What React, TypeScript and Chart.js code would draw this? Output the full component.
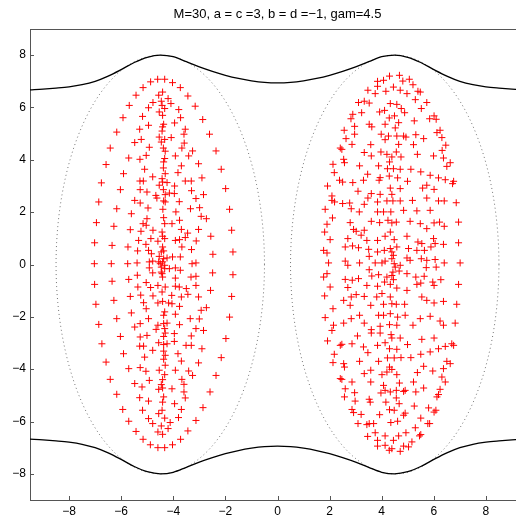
import React, { useEffect, useRef } from "react";
import { Chart, registerables } from "chart.js";

Chart.register(...registerables);

const titleText = "M=30, a = c =3, b = d =\u22121, gam=4.5";
const xTickValues = [-8, -6, -4, -2, 0, 2, 4, 6, 8];
const yTickValues = [-8, -6, -4, -2, 0, 2, 4, 6, 8];

const curveX = [-9.5, -9, -8.5, -8, -7.5, -7, -6.5, -6, -5.5, -5, -4.5, -4, -3.5, -3, -2.5, -2, -1.5, -1, -0.5, 0,
  0.5, 1, 1.5, 2, 2.5, 3, 3.5, 4, 4.5, 5, 5.5, 6, 6.5, 7, 7.5, 8, 8.5, 9, 9.5];
const curveTop = [6.67, 6.7, 6.74, 6.79, 6.87, 7.0, 7.2, 7.45, 7.72, 7.92, 8.0, 7.94, 7.75, 7.55, 7.38, 7.23, 7.11, 7.02, 6.96, 6.94,
  6.96, 7.02, 7.11, 7.23, 7.38, 7.55, 7.75, 7.94, 8.0, 7.92, 7.72, 7.45, 7.2, 7.0, 6.87, 6.79, 6.74, 6.7, 6.67];
const curveBottom = curveTop.map((v) => -v);

const ellipseCentersX = [-4.5, 4.5];
const ellipseSemiAxes = [4, 8];

const leftCluster: number[][] = [
  [-4.60, 7.08], [-4.33, 7.08], [-4.87, 6.98], [-4.03, 6.95], [-5.16, 6.76], [-3.73, 6.76], [-4.41, 6.59], [-4.56, 6.47],
  [-5.43, 6.47], [-3.44, 6.44], [-4.20, 6.34], [-4.78, 6.19], [-4.46, 6.24], [-4.09, 6.15], [-4.43, 6.08], [-5.69, 6.08],
  [-4.95, 5.99], [-3.16, 6.05], [-4.33, 5.96], [-3.79, 5.92], [-4.54, 5.83], [-4.41, 5.70], [-5.93, 5.61], [-5.18, 5.66],
  [-3.72, 5.61], [-2.87, 5.54], [-3.95, 5.41], [-4.95, 5.32], [-4.37, 5.36], [-4.41, 5.26], [-5.29, 5.17], [-3.54, 5.17],
  [-4.43, 5.10], [-6.17, 5.06], [-2.61, 4.98], [-3.59, 4.98], [-4.54, 4.87], [-5.23, 4.78], [-4.33, 4.78], [-4.08, 4.85],
  [-4.46, 4.68], [-5.48, 4.66], [-3.58, 4.64], [-4.92, 4.48], [-4.38, 4.45], [-6.42, 4.45], [-3.67, 4.45], [-3.26, 4.34],
  [-4.31, 4.33], [-5.04, 4.17], [-3.92, 4.15], [-3.41, 4.15], [-2.36, 4.34], [-5.71, 4.07], [-5.28, 4.02], [-4.33, 4.05],
  [-4.37, 3.92], [-6.58, 3.82], [-3.03, 3.85], [-3.69, 3.77], [-4.38, 3.69], [-5.10, 3.64], [-2.16, 3.64], [-5.91, 3.47],
  [-4.31, 3.47], [-3.82, 3.51], [-4.79, 3.35], [-4.43, 3.28], [-2.90, 3.31], [-5.28, 3.19], [-5.15, 3.19], [-4.41, 3.15],
  [-4.24, 3.13], [-6.76, 3.12], [-3.54, 3.19], [-3.31, 3.19], [-4.54, 3.03], [-3.95, 3.00], [-6.03, 2.86], [-5.27, 2.86],
  [-4.38, 2.86], [-3.30, 2.82], [-1.99, 2.90], [-5.01, 2.77], [-4.15, 2.73], [-4.67, 2.64], [-4.31, 2.67], [-2.84, 2.67],
  [-3.96, 2.71],
  [-6.86, 2.39], [-5.48, 2.45], [-5.27, 2.35], [-4.63, 2.54], [-4.37, 2.43], [-4.31, 2.39], [-3.77, 2.40], [-3.13, 2.52],
  [-6.17, 2.13], [-5.61, 1.94], [-4.97, 2.16], [-4.40, 2.11], [-3.90, 2.01], [-3.34, 2.13], [-2.99, 2.17], [-1.84, 2.11],
  [-6.95, 1.60], [-6.28, 1.46], [-5.16, 1.56], [-5.04, 1.50], [-5.01, 1.75], [-4.37, 1.79], [-4.33, 1.56], [-4.05, 1.56],
  [-3.76, 1.69], [-2.93, 1.84], [-2.73, 1.75], [-5.65, 1.33], [-5.24, 1.27], [-4.78, 1.31], [-4.43, 1.24], [-3.69, 1.34],
  [-3.45, 1.20], [-3.03, 1.34], [-1.76, 1.31], [-5.33, 0.92], [-4.86, 0.99], [-4.59, 0.89], [-4.41, 1.08], [-4.33, 0.99],
  [-3.92, 0.92], [-3.76, 0.95], [-3.54, 1.03], [-3.12, 0.90], [-2.56, 1.08], [-7.02, 0.83], [-6.35, 0.73], [-5.74, 0.67],
  [-5.37, 0.52], [-5.05, 0.77], [-4.84, 0.41], [-4.41, 0.67], [-4.37, 0.52], [-3.67, 0.67], [-3.30, 0.57], [-1.71, 0.48],
  [-2.48, 0.39], [-4.95, 0.54], [-4.54, 0.31], [-4.24, 0.25], [-4.41, 0.10], [-4.03, 0.29], [-3.73, 0.29], [-7.03, 0.03],
  [-6.38, 0.03], [-5.75, 0.03], [-5.39, 0.06], [-4.92, 0.10], [-4.79, 0.13], [-4.46, -0.10], [-4.33, -0.03], [-3.92, -0.13],
  [-3.73, -0.22], [-3.28, 0.03], [-3.13, 0.06], [-4.92, -0.13], [-4.79, -0.32], [-4.46, -0.29], [-4.15, -0.16], [-5.38, -0.41],
  [-5.71, -0.57], [-6.35, -0.64], [-4.41, -0.48], [-3.92, -0.52], [-3.32, -0.48], [-3.13, -0.45], [-2.49, -0.32], [-1.71, -0.39],
  [-5.04, -0.69], [-7.02, -0.76], [-5.36, -0.86], [-4.59, -0.80], [-4.87, -0.88], [-4.31, -0.86], [-3.92, -0.83], [-3.77, -0.86],
  [-3.50, -0.92], [-3.13, -0.80], [-2.57, -0.99], [-5.25, -1.17], [-5.65, -1.22], [-4.78, -1.20], [-4.43, -1.05], [-4.06, -1.18],
  [-3.69, -1.24], [-3.44, -1.14], [-3.03, -1.24], [-1.76, -1.22], [-6.97, -1.52], [-6.28, -1.37], [-5.14, -1.46], [-5.04, -1.69],
  [-4.59, -1.47], [-4.41, -1.41], [-4.18, -1.47], [-4.05, -1.50], [-3.76, -1.60], [-2.93, -1.75], [-2.73, -1.65], [-5.61, -1.85],
  [-4.37, -1.94], [-4.33, -1.81], [-3.92, -1.90], [-3.35, -2.07], [-3.00, -2.08], [-1.84, -2.01], [-6.86, -2.29], [-6.17, -2.07],
  [-5.27, -2.26], [-5.48, -2.39], [-4.95, -2.07], [-4.59, -2.32], [-4.37, -2.26], [-4.24, -2.24], [-3.76, -2.30], [-3.13, -2.45],
  [-2.84, -2.52], [-4.66, -2.48], [-4.33, -2.45],
  [-4.46, 0.48], [-4.37, 0.22], [-4.50, 0.03], [-4.33, -0.16], [-4.43, -0.35], [-4.56, 0.10],
  [-6.03, -2.75], [-5.27, -2.77], [-5.01, -2.71], [-4.37, -2.75], [-4.31, -2.62], [-3.96, -2.64], [-3.31, -2.73], [-1.98, -2.83],
  [-6.74, -3.03], [-5.29, -3.12], [-5.14, -3.12], [-4.56, -2.99], [-4.37, -3.06], [-4.24, -3.03], [-3.96, -2.94], [-3.51, -3.09],
  [-3.31, -3.09], [-2.90, -3.22], [-5.91, -3.41], [-5.10, -3.54], [-4.79, -3.28], [-4.37, -3.31], [-4.31, -3.47], [-3.82, -3.41],
  [-3.69, -3.69], [-2.16, -3.56], [-6.58, -3.73], [-4.37, -3.62], [-4.31, -3.85], [-5.71, -3.98], [-5.27, -3.94], [-5.05, -4.08],
  [-4.54, -4.04], [-4.33, -4.21], [-3.92, -4.04], [-3.41, -4.07], [-3.26, -4.24], [-3.03, -3.76], [-2.36, -4.24], [-6.42, -4.39],
  [-5.48, -4.55], [-5.20, -4.68], [-4.92, -4.43], [-4.41, -4.40], [-4.46, -4.59], [-4.05, -4.75], [-3.67, -4.39], [-3.59, -4.58],
  [-2.59, -4.87], [-6.17, -4.96], [-4.41, -4.72], [-4.56, -4.77], [-4.37, -5.06], [-3.59, -4.87], [-3.54, -5.10], [-5.29, -5.09],
  [-4.95, -5.22], [-4.41, -5.26], [-3.95, -5.32], [-5.94, -5.54], [-5.18, -5.57], [-4.43, -5.57], [-3.69, -5.54], [-2.86, -5.47],
  [-4.56, -5.70], [-4.33, -5.87], [-3.80, -5.85], [-5.71, -5.99], [-4.95, -5.89], [-4.79, -6.08], [-4.46, -6.17], [-4.12, -6.04],
  [-4.20, -6.27], [-3.13, -5.96], [-5.43, -6.38], [-4.59, -6.40], [-4.41, -6.49], [-3.44, -6.36], [-5.16, -6.68], [-3.72, -6.68],
  [-4.88, -6.89], [-4.59, -7.00], [-4.33, -7.00], [-4.03, -6.89],
];

const rightCluster: number[][] = [
  [4.30, 7.20], [4.68, 7.23], [3.84, 7.00], [4.07, 7.04], [4.81, 7.01], [5.06, 7.08], [5.20, 6.87], [3.84, 6.81],
  [4.45, 6.78], [3.47, 6.66], [3.75, 6.53], [4.16, 6.62], [4.71, 6.66], [4.97, 6.53], [5.39, 6.62], [5.48, 6.59],
  [3.11, 6.19], [3.33, 6.24], [3.52, 6.17], [4.33, 6.15], [4.58, 6.12], [5.29, 6.30], [5.73, 6.19], [3.92, 5.83],
  [4.11, 5.89], [4.29, 5.60], [4.49, 5.68], [4.88, 5.80], [4.75, 5.96], [5.52, 5.96], [2.89, 5.74], [2.82, 5.57],
  [3.23, 5.80], [4.65, 5.42], [5.25, 5.49], [5.84, 5.57], [6.01, 5.68], [6.09, 5.55], [3.52, 5.36], [3.62, 5.26],
  [4.13, 5.36], [4.52, 5.22], [2.56, 5.13], [2.96, 5.28], [2.96, 4.98], [3.98, 4.98], [4.26, 4.91], [4.58, 4.91],
  [4.84, 4.91], [4.93, 4.87], [5.31, 4.96], [5.61, 4.81], [6.12, 5.04], [6.24, 5.13], [2.63, 4.81], [2.86, 4.59],
  [3.58, 4.58], [4.13, 4.77], [4.65, 4.59], [5.22, 4.58], [6.31, 4.85], [6.46, 4.56], [2.41, 4.45], [2.47, 4.40],
  [3.33, 4.28], [3.97, 4.30], [4.20, 4.21], [4.39, 4.11], [4.56, 4.30], [4.74, 4.11], [5.37, 4.21], [5.99, 4.15],
  [6.32, 4.36], [6.37, 4.07], [2.54, 4.02], [2.57, 3.89], [3.60, 4.15], [4.30, 3.92], [2.13, 3.83], [3.15, 3.77],
  [3.88, 3.77], [6.63, 3.89], [6.50, 3.75], [2.18, 3.51], [3.46, 3.45], [4.22, 3.66], [4.45, 3.66], [4.71, 3.64],
  [5.12, 3.64], [5.50, 3.54], [5.86, 3.41], [6.18, 3.31], [6.44, 3.24], [6.76, 3.18], [2.38, 3.22], [2.50, 3.15],
  [2.89, 3.13], [3.30, 3.22], [3.90, 3.22], [3.94, 3.32], [4.29, 3.38], [4.61, 3.31], [4.99, 3.18], [5.73, 3.03],
  [1.92, 3.00], [3.09, 2.80], [3.60, 2.71], [3.94, 2.68], [4.33, 2.92], [4.39, 2.68], [4.71, 2.90], [5.57, 2.92],
  [6.01, 2.87], [6.72, 3.09], [2.09, 2.62],
  [2.09, 2.45], [2.19, 2.39], [2.50, 2.33], [2.77, 2.35], [3.33, 2.30], [3.47, 2.54], [3.84, 2.39], [4.20, 2.43],
  [4.43, 2.43], [4.71, 2.43], [5.18, 2.45], [5.73, 2.54], [6.18, 2.43], [6.40, 2.43], [6.86, 2.36], [1.83, 2.11],
  [2.83, 2.13], [3.14, 2.01], [3.84, 2.01], [4.07, 2.01], [4.35, 2.01], [4.84, 2.07], [5.35, 2.05], [5.86, 2.07],
  [2.11, 1.78], [1.90, 1.54], [1.81, 1.24], [2.79, 1.60], [2.92, 1.34], [3.02, 1.27], [3.33, 1.31], [3.60, 1.65],
  [3.92, 1.60], [4.24, 1.69], [4.39, 1.59], [4.56, 1.62], [5.09, 1.65], [5.48, 1.56], [5.73, 1.37], [6.01, 1.59],
  [6.22, 1.62], [6.40, 1.46], [6.95, 1.62], [2.02, 0.95], [2.70, 0.99], [3.21, 1.12], [3.43, 0.92], [3.84, 0.92],
  [4.13, 1.08], [4.33, 1.24], [4.48, 0.95], [4.97, 1.08], [5.39, 0.86], [5.54, 0.80], [5.99, 0.99], [6.37, 0.77],
  [6.95, 0.83], [1.77, 0.54], [1.90, 0.44], [2.60, 0.67], [2.88, 0.71], [3.11, 0.64], [3.50, 0.58], [3.84, 0.48],
  [4.10, 0.54], [4.33, 0.61], [4.58, 0.67], [5.03, 0.61], [5.35, 0.54], [5.64, 0.54], [5.89, 0.67], [6.05, 0.80],
  [1.96, 0.06], [2.60, 0.13], [2.70, -0.03], [3.15, 0.06], [3.52, 0.31], [3.75, 0.06], [4.01, 0.06], [4.13, 0.13],
  [4.39, 0.22], [4.71, -0.03], [4.97, 0.25], [5.09, 0.16], [5.52, 0.22], [5.73, 0.16], [5.71, -0.12], [6.05, 0.19],
  [6.09, -0.10], [6.40, 0.06], [7.01, 0.06], [1.77, -0.48], [1.90, -0.35], [2.60, -0.57], [2.87, -0.60], [3.11, -0.54],
  [3.52, -0.20], [3.62, -0.44], [3.88, -0.39], [4.20, -0.48], [4.45, -0.58], [4.67, -0.25], [4.97, -0.35], [5.31, -0.48],
  [5.63, -0.45], [5.96, -0.67], [6.27, -0.58], [2.02, -0.86], [2.70, -0.88], [3.43, -0.80], [3.84, -0.83], [4.11, -0.67],
  [4.33, -0.76], [4.58, -0.90], [4.97, -0.99], [5.35, -0.76], [5.50, -0.71], [6.01, -0.80], [6.95, -0.76], [1.81, -1.20],
  [2.54, -1.37], [2.83, -1.24], [3.02, -1.15], [3.33, -1.22], [3.81, -1.24], [4.01, -1.11], [4.33, -1.24], [4.56, -1.52],
  [4.39, -1.50], [4.88, -1.52], [5.54, -1.24], [5.73, -1.37], [6.01, -1.47], [6.37, -1.41], [6.88, -1.52], [2.13, -1.69],
  [2.79, -1.56], [3.58, -1.56], [4.07, -1.52], [1.83, -2.03], [2.15, -2.32], [2.54, -2.24], [2.83, -2.07], [3.15, -1.94],
  [3.33, -2.24], [3.88, -1.94], [4.07, -1.94], [4.33, -1.88], [4.61, -2.01], [4.90, -1.94], [5.20, -2.32], [5.48, -2.07],
  [5.86, -1.98], [6.24, -2.16], [6.37, -2.32], [6.82, -2.24], [3.60, -2.49], [3.94, -2.36], [4.30, -2.30], [4.58, -2.32],
  [2.09, -2.52],
  [4.39, 0.48], [4.45, 0.35], [4.48, 0.03], [4.52, -0.10], [4.43, -0.29], [4.39, -0.42],
  [3.07, -2.73], [3.60, -2.62], [3.94, -2.62], [4.36, -2.68], [4.39, -2.81], [4.71, -2.81], [5.54, -2.86], [6.01, -2.81],
  [1.92, -2.92], [2.41, -3.09], [2.47, -3.05], [2.86, -3.03], [3.30, -3.15], [3.84, -3.09], [4.13, -2.99], [4.30, -3.22],
  [4.58, -3.24], [4.99, -3.06], [6.18, -3.22], [6.44, -3.13], [6.69, -3.03], [6.76, -3.09], [2.18, -3.43], [3.47, -3.37],
  [3.88, -3.70], [4.22, -3.57], [4.48, -3.57], [4.74, -3.56], [5.12, -3.56], [5.50, -3.43], [5.86, -3.34], [2.13, -3.75],
  [2.54, -3.79], [2.57, -3.92], [3.15, -3.70], [4.30, -3.92], [4.39, -4.01], [4.20, -4.11], [4.58, -4.21], [5.37, -4.13],
  [5.61, -3.89], [5.96, -4.07], [6.37, -3.98], [6.50, -3.70], [6.63, -3.79], [2.41, -4.36], [2.47, -4.39], [2.86, -4.49],
  [3.58, -4.04], [3.33, -4.17], [3.58, -4.49], [4.01, -4.21], [4.07, -4.62], [4.13, -4.81], [4.33, -4.87], [4.56, -4.81],
  [4.68, -4.53], [4.84, -4.85], [4.90, -4.81], [5.22, -4.49], [5.31, -4.87], [5.61, -4.72], [6.31, -4.30], [6.44, -4.49],
  [2.60, -4.75], [2.96, -4.90], [2.57, -5.06], [2.98, -5.22], [3.56, -5.26], [3.52, -5.15], [3.97, -4.91], [4.16, -5.26],
  [4.56, -5.10], [4.67, -5.32], [5.25, -5.41], [5.80, -5.48], [6.08, -5.57], [6.01, -5.64], [6.18, -4.97], [6.12, -5.06],
  [6.24, -4.77], [2.86, -5.54], [2.92, -5.66], [3.21, -5.73], [3.92, -5.74], [4.30, -5.55], [4.48, -5.57], [4.90, -5.68],
  [4.84, -5.76], [4.35, -6.04], [4.61, -5.99], [5.50, -5.87], [5.77, -6.08], [5.84, -6.08], [3.09, -6.08], [3.43, -6.12],
  [3.52, -6.08], [3.69, -6.08], [3.75, -6.43], [3.46, -6.57], [4.13, -6.55], [4.65, -6.55], [4.93, -6.43], [5.29, -6.24],
  [5.45, -6.55], [5.50, -6.50], [3.84, -6.72], [4.45, -6.72], [3.84, -6.94], [4.13, -6.91], [4.29, -7.10], [4.39, -7.04],
  [4.71, -7.14], [4.84, -6.94], [5.03, -6.97], [5.16, -6.78],
];

const FONT = '"Liberation Sans", Arial, Helvetica, sans-serif';
const AXIS_COLOR = "#555";

function ellipsePoints(cx: number, ax: number, by: number) {
  const pts: { x: number; y: number }[] = [];
  const n = 240;
  for (let i = 0; i <= n; i++) {
    const t = (i / n) * Math.PI * 2;
    pts.push({ x: cx + ax * Math.cos(t), y: by * Math.sin(t) });
  }
  return pts;
}

const fmt = (v: number) => (v < 0 ? "\u2212" + Math.abs(v) : String(v));

const framePlugin = {
  id: "frame",
  afterDraw(chart: any) {
    const { ctx, chartArea } = chart;
    const { left, right, top, bottom } = chartArea;
    const xs = chart.scales.x;
    const ys = chart.scales.y;
    ctx.save();
    ctx.strokeStyle = AXIS_COLOR;
    ctx.lineWidth = 1;
    ctx.beginPath();
    ctx.moveTo(left, Math.round(top) + 0.5);
    ctx.lineTo(right, Math.round(top) + 0.5);
    for (const v of xTickValues) {
      const px = Math.round(xs.getPixelForValue(v)) + 0.5;
      ctx.moveTo(px, bottom);
      ctx.lineTo(px, bottom - 4);
    }
    for (const v of yTickValues) {
      const py = Math.round(ys.getPixelForValue(v)) + 0.5;
      ctx.moveTo(left, py);
      ctx.lineTo(left + 4, py);
    }
    ctx.stroke();
    ctx.fillStyle = "#000";
    ctx.font = "13px " + FONT;
    ctx.textAlign = "center";
    ctx.textBaseline = "middle";
    ctx.fillText(titleText, (left + right) / 2, 14);
    ctx.restore();
  },
};

export default function App() {
  const ref = useRef<HTMLCanvasElement | null>(null);
  useEffect(() => {
    if (!ref.current) return;
    const crossStyle = {
      pointStyle: "cross" as const,
      pointRadius: 3.5,
      pointHoverRadius: 3.5,
      pointBorderWidth: 1,
      borderColor: "#ff0000",
      backgroundColor: "#ff0000",
      showLine: false,
    };
    const chart = new Chart(ref.current, {
      type: "scatter",
      data: {
        datasets: [
          {
            data: curveX.map((x, i) => ({ x, y: curveTop[i] })),
            showLine: true,
            borderColor: "#000",
            borderWidth: 1.3,
            pointRadius: 0,
            cubicInterpolationMode: "monotone",
          } as any,
          {
            data: curveX.map((x, i) => ({ x, y: curveBottom[i] })),
            showLine: true,
            borderColor: "#000",
            borderWidth: 1.3,
            pointRadius: 0,
            cubicInterpolationMode: "monotone",
          } as any,
          ...ellipseCentersX.map(
            (cx) =>
              ({
                data: ellipsePoints(cx, ellipseSemiAxes[0], ellipseSemiAxes[1]),
                showLine: true,
                borderColor: "rgba(0,0,0,0.55)",
                borderWidth: 1,
                borderDash: [1, 3],
                pointRadius: 0,
                tension: 0,
              } as any)
          ),
          { data: leftCluster.map(([x, y]) => ({ x, y })), ...crossStyle } as any,
          { data: rightCluster.map(([x, y]) => ({ x, y })), ...crossStyle } as any,
        ],
      },
      options: {
        animation: false,
        responsive: false,
        devicePixelRatio: 1,
        layout: { padding: { top: 29, right: 20, bottom: 0, left: 0 } },
        plugins: { legend: { display: false }, tooltip: { enabled: false }, title: { display: false } },
        scales: {
          x: {
            type: "linear",
            min: -9.5,
            max: 9.5,
            afterBuildTicks: (s: any) => {
              s.ticks = xTickValues.map((v) => ({ value: v }));
            },
            afterFit: (s: any) => {
              s.height = 19;
            },
            grid: { display: false, drawTicks: false },
            border: { display: true, color: AXIS_COLOR, width: 1 },
            ticks: {
              padding: 4,
              color: "#000",
              font: { family: FONT, size: 12 },
              maxRotation: 0,
              autoSkip: false,
              callback: (v: any) => fmt(Number(v)),
            },
          },
          y: {
            type: "linear",
            min: -9,
            max: 9,
            afterBuildTicks: (s: any) => {
              s.ticks = yTickValues.map((v) => ({ value: v }));
            },
            afterFit: (s: any) => {
              s.width = 30;
            },
            grid: { display: false, drawTicks: false },
            border: { display: true, color: AXIS_COLOR, width: 1 },
            ticks: {
              padding: 4,
              color: "#000",
              font: { family: FONT, size: 12 },
              autoSkip: false,
              callback: (v: any) => fmt(Number(v)),
            },
          },
        },
      },
      plugins: [framePlugin],
    });
    return () => chart.destroy();
  }, []);
  return (
    <div
      style={{
        position: "absolute",
        left: 0,
        top: 0,
        width: 516,
        height: 519,
        overflow: "hidden",
        background: "#fff",
      }}
    >
      <canvas ref={ref} width={545} height={519} style={{ width: 545, height: 519, display: "block" }} />
    </div>
  );
}
